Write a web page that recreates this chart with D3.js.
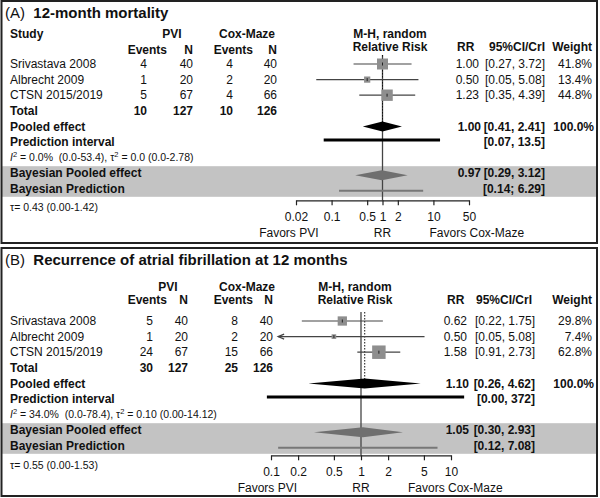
<!DOCTYPE html>
<html lang="en">
<head>
<meta charset="UTF-8">
<script src="https://d3js.org/d3.v7.min.js"></script>
<style>
  body { margin: 0; background: #fff; }
  svg { display: block; font-family: "Liberation Sans", Arial, sans-serif; }
  text { white-space: pre; }
</style>
</head>
<body>
<svg width="600" height="498"></svg>
<script>
// studies, same in both panels
const studies = ["Srivastava 2008", "Albrecht 2009", "CTSN 2015/2019"];

// (A) 12-month mortality
const pviEventsA = [4, 1, 5];
const pviNA = [40, 20, 67];
const coxEventsA = [4, 2, 4];
const coxNA = [40, 20, 66];
const rrA = [1.00, 0.50, 1.23];
const ciLowA = [0.27, 0.05, 0.35];
const ciHighA = [3.72, 5.08, 4.39];
const weightA = [41.8, 13.4, 44.8];
const pooledA = [1.00, 0.41, 2.41];
const predA = [0.07, 13.5];
const bayesA = [0.97, 0.29, 3.12];
const bayesPredA = [0.14, 6.29];
const ticksA = [0.02, 0.1, 0.5, 1, 2, 10, 50];
const hetA = ["0.0%", "(0.0-53.4)", "0.0 (0.0-2.78)"];
const tauA = "τ= 0.43 (0.00-1.42)";

// (B) Recurrence of atrial fibrillation at 12 months
const pviEventsB = [5, 1, 24];
const pviNB = [40, 20, 67];
const coxEventsB = [8, 2, 15];
const coxNB = [40, 20, 66];
const rrB = [0.62, 0.50, 1.58];
const ciLowB = [0.22, 0.05, 0.91];
const ciHighB = [1.75, 5.08, 2.73];
const weightB = [29.8, 7.4, 62.8];
const pooledB = [1.10, 0.26, 4.62];
const predB = [0.00, 372];
const bayesB = [1.05, 0.30, 2.93];
const bayesPredB = [0.12, 7.08];
const ticksB = [0.1, 0.2, 0.5, 1, 2, 5, 10];
const hetB = ["34.0%", "(0.0-78.4)", "0.10 (0.00-14.12)"];
const tauB = "τ= 0.55 (0.00-1.53)";

const svg = d3.select("svg");
const f2 = d3.format(".2f");
const fv = v => v >= 10 ? d3.format(".3~r")(v) : f2(v);
const ciText = (lo, hi, sep) => `[${fv(lo)}${sep} ${fv(hi)}]`;
const rowKeys = ["s0", "s1", "s2", "total", "pooled", "pred", "het", "bpooled", "bpred"];

function drawPanel(p) {
    const g = svg.append("g").attr("transform", `translate(0,${p.top})`);
    const x = d3.scaleLog().domain(p.domain).range(p.range);
    const y = d3.scalePoint().domain(rowKeys).range([p.rowStart, p.rowStart + 8 * 15.6]);
    const axisY = y("bpred") + p.axisOff;

    // grey band for the bayesian rows
    g.append("rect")
        .attr("x", 2).attr("width", 595)
        .attr("y", y("bpooled") - 7)
        .attr("height", y("bpred") - y("bpooled") + 15)
        .attr("fill", "#c3c3c3");

    g.append("rect")
        .attr("x", 1.5).attr("y", 1)
        .attr("width", 595.5).attr("height", p.height)
        .attr("fill", "none").attr("stroke", "#222").attr("stroke-width", 2);

    const txt = (tx, ty, s, opt = {}) => g.append("text")
        .attr("x", tx).attr("y", ty).attr("dy", "0.35em")
        .attr("text-anchor", opt.anchor || "start")
        .attr("font-size", opt.size || 12)
        .attr("font-weight", opt.bold ? "bold" : "normal")
        .attr("fill", "#111")
        .text(s);

    // title
    g.append("text").attr("x", 5).attr("y", 13).attr("dy", "0.35em")
        .attr("font-size", 15).attr("fill", "#111")
        .call(t => t.append("tspan").text(p.label + "  "))
        .call(t => t.append("tspan").attr("font-weight", "bold").text(p.title));

    // headers
    if (p.studyHead) txt(10, p.head1, "Study", { bold: true });
    txt(p.c.pviHead, p.head1, "PVI", { bold: true, anchor: "middle" });
    txt(p.c.coxHead, p.head1, "Cox-Maze", { bold: true, anchor: "middle" });
    txt(167, p.headEv, "Events", { bold: true, anchor: "end" });
    txt(p.c.pviN, p.headEv, "N", { bold: true, anchor: "end" });
    txt(253, p.headEv, "Events", { bold: true, anchor: "end" });
    txt(p.c.coxN, p.headEv, "N", { bold: true, anchor: "end" });
    txt(p.mhX, p.head1, "M-H, random", { bold: true, anchor: "middle" });
    txt(p.mhX, p.head2, "Relative Risk", { bold: true, anchor: "middle" });
    txt(p.c.rrHead, p.head2, "RR", { bold: true });
    txt(p.c.ciHead, p.head2, "95%CI/CrI", { bold: true, anchor: "end" });
    txt(592, p.head2, "Weight", { bold: true, anchor: "end" });

    // study rows
    p.rows.forEach((r, i) => {
        const yy = y("s" + i);
        txt(10, yy, r.study);
        txt(p.c.pviE, yy, r.pviE, { anchor: "end" });
        txt(p.c.pviN, yy, r.pviN, { anchor: "end" });
        txt(p.c.coxE, yy, r.coxE, { anchor: "end" });
        txt(p.c.coxN, yy, r.coxN, { anchor: "end" });
        txt(p.c.rr, yy, f2(r.rr), { anchor: "end" });
        txt(p.c.ci, yy, ciText(r.lo, r.hi, ","), { anchor: "end" });
        txt(592, yy, d3.format(".1f")(r.w) + "%", { anchor: "end" });
    });

    // totals
    const yt = y("total");
    txt(10, yt, "Total", { bold: true });
    txt(p.c.pviE, yt, d3.sum(p.rows, r => r.pviE), { bold: true, anchor: "end" });
    txt(p.c.pviN, yt, d3.sum(p.rows, r => r.pviN), { bold: true, anchor: "end" });
    txt(p.c.coxE, yt, d3.sum(p.rows, r => r.coxE), { bold: true, anchor: "end" });
    txt(p.c.coxN, yt, d3.sum(p.rows, r => r.coxN), { bold: true, anchor: "end" });

    txt(10, y("pooled"), "Pooled effect", { bold: true });
    txt(p.c.rr + 2, y("pooled"), f2(p.pooled[0]), { bold: true, anchor: "end" });
    txt(p.c.ci, y("pooled"), ciText(p.pooled[1], p.pooled[2], ","), { bold: true, anchor: "end" });
    txt(594, y("pooled"), "100.0%", { bold: true, anchor: "end" });
    txt(10, y("pred"), "Prediction interval", { bold: true });
    txt(p.c.ci, y("pred"), ciText(p.pred[0], p.pred[1], ","), { bold: true, anchor: "end" });

    // heterogeneity line
    g.append("text").attr("x", 10).attr("y", y("het")).attr("dy", "0.35em")
        .attr("font-size", 10.5).attr("fill", "#111")
        .call(t => {
            t.append("tspan").attr("font-style", "italic").text("I");
            t.append("tspan").attr("dy", -4).attr("font-size", 7.5).text("2");
            t.append("tspan").attr("dy", 4).text(` = ${p.het[0]}  ${p.het[1]}, τ`);
            t.append("tspan").attr("dy", -4).attr("font-size", 7.5).text("2");
            t.append("tspan").attr("dy", 4).text(` = ${p.het[2]}`);
        });

    txt(10, y("bpooled"), "Bayesian Pooled effect", { bold: true });
    txt(p.c.rr + 2, y("bpooled"), f2(p.bayes[0]), { bold: true, anchor: "end" });
    txt(p.c.ci, y("bpooled"), ciText(p.bayes[1], p.bayes[2], ","), { bold: true, anchor: "end" });
    txt(10, y("bpred"), "Bayesian Prediction", { bold: true });
    txt(p.c.ci, y("bpred"), ciText(p.bayesPred[0], p.bayesPred[1], p.bpSep), { bold: true, anchor: "end" });
    txt(10, axisY + p.tauOff, p.tau, { size: 10.5 });

    // reference line at 1 and dotted pooled line
    const top = y("s0") - 9;
    g.append("line")
        .attr("x1", x(1)).attr("x2", x(1)).attr("y1", top).attr("y2", axisY)
        .attr("stroke", "#444").attr("stroke-width", 1.3);
    g.append("line")
        .attr("x1", x(p.pooled[0])).attr("x2", x(p.pooled[0]))
        .attr("y1", top).attr("y2", y("pooled"))
        .attr("stroke", "#111").attr("stroke-width", 1).attr("stroke-dasharray", "1.5,1.5");

    // study CIs
    const clip = v => Math.min(Math.max(v, p.ciClip[0]), p.ciClip[1]);
    p.rows.forEach((r, i) => {
        const yy = y("s" + i);
        g.append("line")
            .attr("x1", x(clip(r.lo))).attr("x2", x(clip(r.hi)))
            .attr("y1", yy).attr("y2", yy)
            .attr("stroke", "#444").attr("stroke-width", 1.2);
        if (r.lo < p.ciClip[0]) {
            const ax = x(p.ciClip[0]);
            g.append("path")
                .attr("d", `M${ax + 6},${yy - 2.5}L${ax},${yy}L${ax + 6},${yy + 2.5}`)
                .attr("fill", "none").attr("stroke", "#444").attr("stroke-width", 1.2);
        }
        const s = 1.7 * Math.sqrt(r.w);
        g.append("rect")
            .attr("x", x(r.rr) - s / 2).attr("y", yy - s / 2)
            .attr("width", s).attr("height", s)
            .attr("fill", "#8e8e8e");
        g.append("line")
            .attr("x1", x(r.rr)).attr("x2", x(r.rr)).attr("y1", yy - 1.5).attr("y2", yy + 1.5)
            .attr("stroke", "#222").attr("stroke-width", 1);
    });

    const diamond = (est, lo, hi, yy, fill) => g.append("path")
        .attr("d", `M${x(lo)},${yy}L${x(est)},${yy - 5}L${x(hi)},${yy}L${x(est)},${yy + 5}Z`)
        .attr("fill", fill);
    const pclip = v => Math.min(Math.max(v, p.predClip[0]), p.predClip[1]);

    diamond(p.pooled[0], p.pooled[1], p.pooled[2], y("pooled"), "#000");
    g.append("line")
        .attr("x1", x(pclip(p.pred[0]))).attr("x2", x(pclip(p.pred[1])))
        .attr("y1", y("pred") - 2).attr("y2", y("pred") - 2)
        .attr("stroke", "#000").attr("stroke-width", 3);
    diamond(p.bayes[0], p.bayes[1], p.bayes[2], y("bpooled") + 2, "#6f6f6f");
    g.append("line")
        .attr("x1", x(pclip(p.bayesPred[0]))).attr("x2", x(pclip(p.bayesPred[1])))
        .attr("y1", y("bpred") + 2).attr("y2", y("bpred") + 2)
        .attr("stroke", "#777").attr("stroke-width", 2);

    // axis
    const ax = g.append("g").attr("transform", `translate(0,${axisY})`)
        .call(d3.axisBottom(x).tickValues(p.ticks).tickFormat(d => d)
            .tickSize(5).tickSizeOuter(0).tickPadding(7));
    ax.selectAll("text").attr("font-size", 12).attr("fill", "#111")
        .attr("font-family", '"Liberation Sans", Arial, sans-serif');
    ax.selectAll("line, path").attr("stroke", "#222").attr("stroke-width", 1.2);

    txt(x(1) - 64, axisY + 32, "Favors PVI", { anchor: "end" });
    txt(x(1), axisY + 32, "RR", { anchor: "middle" });
    txt(x(1) + 47, axisY + 32, "Favors Cox-Maze");
}

const buildRows = (pe, pn, ce, cn, rr, lo, hi, w) => studies.map((s, i) => ({
    study: s, pviE: pe[i], pviN: pn[i], coxE: ce[i], coxN: cn[i],
    rr: rr[i], lo: lo[i], hi: hi[i], w: w[i]
}));

drawPanel({
    top: 0, height: 242, label: "(A)", title: "12-month mortality",
    studyHead: true, head1: 34, head2: 47, headEv: 50, rowStart: 64,
    mhX: 390, axisOff: 11.5,
    c: { pviE: 147, pviN: 193, coxE: 233, coxN: 277, pviHead: 172, coxHead: 247,
         rr: 479, ci: 545, rrHead: 457, ciHead: 545 },
    domain: [0.02, 50], range: [296, 469], ciClip: [0.02, 50], predClip: [0.02, 50],
    rows: buildRows(pviEventsA, pviNA, coxEventsA, coxNA, rrA, ciLowA, ciHighA, weightA),
    pooled: pooledA, pred: predA, bayes: bayesA, bayesPred: bayesPredA, bpSep: ";",
    ticks: ticksA, het: hetA, tau: tauA, tauOff: 7
});

drawPanel({
    top: 247, height: 248, label: "(B)", title: "Recurrence of atrial fibrillation at 12 months",
    studyHead: false, head1: 40, head2: 53, headEv: 53, rowStart: 74,
    mhX: 355, axisOff: 9.5,
    c: { pviE: 153, pviN: 188, coxE: 238, coxN: 273, pviHead: 168, coxHead: 247,
         rr: 467, ci: 535, rrHead: 447, ciHead: 532 },
    domain: [0.1, 10], range: [271, 451], ciClip: [0.12, 12], predClip: [0.09, 14],
    rows: buildRows(pviEventsB, pviNB, coxEventsB, coxNB, rrB, ciLowB, ciHighB, weightB),
    pooled: pooledB, pred: predB, bayes: bayesB, bayesPred: bayesPredB, bpSep: ",",
    ticks: ticksB, het: hetB, tau: tauB, tauOff: 10
});
</script>
</body>
</html>
